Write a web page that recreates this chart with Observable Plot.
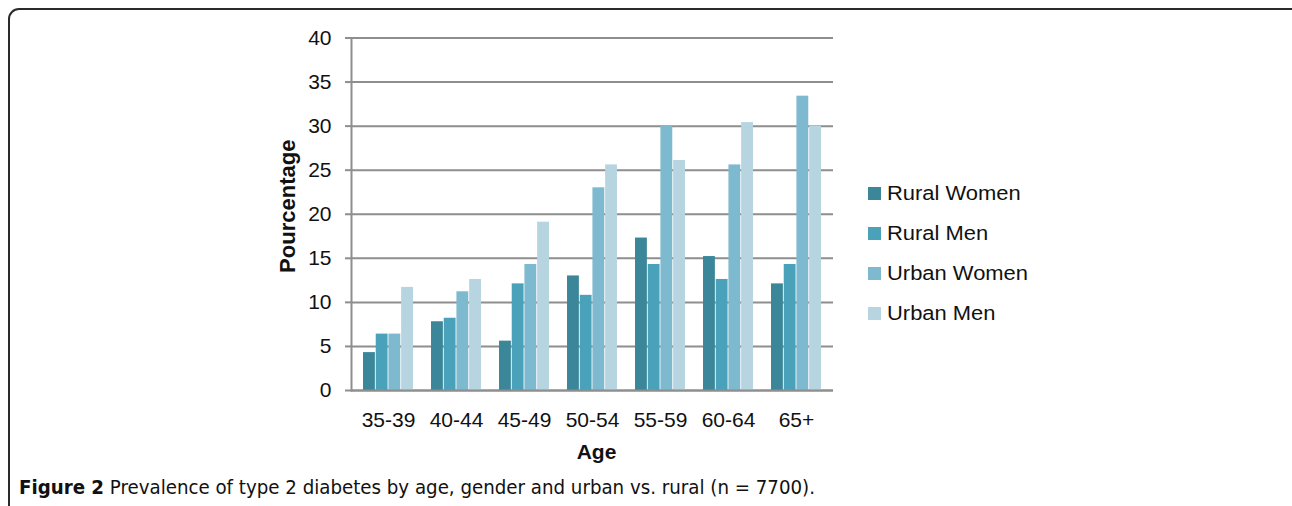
<!DOCTYPE html>
<html>
<head>
<meta charset="utf-8">
<script src="https://cdn.jsdelivr.net/npm/d3@7"></script>
<script src="https://cdn.jsdelivr.net/npm/@observablehq/plot@0.6"></script>
<style>
  html, body { margin: 0; padding: 0; background: #fff; width: 1292px; height: 506px; overflow: hidden; }
  #box { position: absolute; left: 8px; top: 8px; width: 1400px; height: 700px; border: 2px solid #2a2a2a; border-radius: 11px; box-sizing: border-box; }
  #chart { position: absolute; left: 0; top: 0; }
  #legend { position: absolute; left: 868px; top: 0; font-family: "Liberation Sans", Arial, Helvetica, sans-serif; font-size: 20.5px; color: #111; }
  .li { position: absolute; white-space: nowrap; display: flex; align-items: center; }
  .sw { width: 13px; height: 13px; margin-right: 6px; flex: none; }
  .lt { display: inline-block; transform: scaleX(1.07); transform-origin: 0 50%; }
  #caption { position: absolute; left: 19px; top: 475px; font-family: "Liberation Sans Narrow", "DejaVu Sans Condensed", "Liberation Sans", sans-serif; font-size: 20px; color: #111; white-space: nowrap; transform-origin: 0 0; }
</style>
</head>
<body>
<div id="box"></div>
<div id="chart"></div>
<div id="legend"></div>
<div id="caption"><b>Figure 2</b> Prevalence of type 2 diabetes by age, gender and urban vs. rural (n = 7700).</div>
<script>
const ages = ["35-39", "40-44", "45-49", "50-54", "55-59", "60-64", "65+"];
const seriesNames = ["Rural Women", "Rural Men", "Urban Women", "Urban Men"];
const ruralWomen = [4.3, 7.8, 5.6, 13.0, 17.3, 15.2, 12.1];
const ruralMen = [6.4, 8.2, 12.1, 10.8, 14.3, 12.6, 14.3];
const urbanWomen = [6.4, 11.2, 14.3, 23.0, 30.0, 25.6, 33.4];
const urbanMen = [11.7, 12.6, 19.1, 25.6, 26.1, 30.4, 30.0];
const yTicks = [0, 5, 10, 15, 20, 25, 30, 35, 40];
const colors = ["#3b8699", "#49a2ba", "#7ebacf", "#b6d5e0"];

const seriesValues = [ruralWomen, ruralMen, urbanWomen, urbanMen];
const table = [];
seriesValues.forEach((vals, s) => vals.forEach((v, i) => table.push({age: ages[i], series: seriesNames[s], si: s, value: v})));

const W = 1292, H = 470;
const mL = 351, mR = W - 833, mT = 37.5, mB = H - 390;
const band = (W - mL - mR) / ages.length;
const barW = 12.7;
const pad = (band - 4 * barW) / 2;

const gridColor = "#8e8e8e";

const barMarks = seriesNames.map((name, s) =>
  Plot.barY(table.filter(d => d.si === s), {
    x: "age", y: "value", fill: colors[s],
    insetLeft: pad + s * barW, insetRight: pad + (3 - s) * barW
  })
);

const chart = Plot.plot({
  width: W, height: H,
  marginLeft: mL, marginRight: mR, marginTop: mT, marginBottom: mB,
  style: {fontFamily: "'Liberation Sans', Arial, Helvetica, sans-serif", fontSize: "20.5px", color: "#111", background: "transparent"},
  x: {type: "band", domain: ages, padding: 0, label: null},
  y: {domain: [0, 40], label: null},
  marks: [
    Plot.gridY(yTicks, {stroke: gridColor, strokeOpacity: 1, strokeWidth: 2}),
    ...barMarks,
    Plot.ruleY([0], {stroke: gridColor, strokeWidth: 2}),
    Plot.frame({anchor: "left", stroke: gridColor, strokeWidth: 2}),
    Plot.axisY(yTicks, {tickSize: 6, tickPadding: 14, stroke: gridColor, strokeWidth: 2, label: null, fontSize: 21, fill: "#111"}),
    Plot.axisX({tickSize: 0, tickPadding: 22, label: null, fontSize: 21, fill: "#111"}),
    Plot.text(["Pourcentage"], {text: d => d, frameAnchor: "left", textAnchor: "middle", dx: -64, dy: -8, rotate: -90, fontWeight: "bold", fontSize: 22, fill: "#111"}),
    Plot.text(["Age"], {text: d => d, frameAnchor: "bottom", textAnchor: "middle", dx: 4, dy: 68, fontWeight: "bold", fontSize: 21, fill: "#111"})
  ]
});
document.getElementById("chart").appendChild(chart);

const legend = document.getElementById("legend");
const legendY = [193, 233, 273, 313];
seriesNames.forEach((name, s) => {
  const row = document.createElement("div");
  row.className = "li";
  row.style.top = (legendY[s] - 13) + "px";
  row.style.height = "26px";
  row.innerHTML = `<span class="sw" style="background:${colors[s]}"></span><span class="lt">${name}</span>`;
  legend.appendChild(row);
});

const cap = document.getElementById("caption");
const cw = cap.getBoundingClientRect().width;
const target = 796;
cap.style.transform = `scaleX(${target / cw})`;
</script>
</body>
</html>
